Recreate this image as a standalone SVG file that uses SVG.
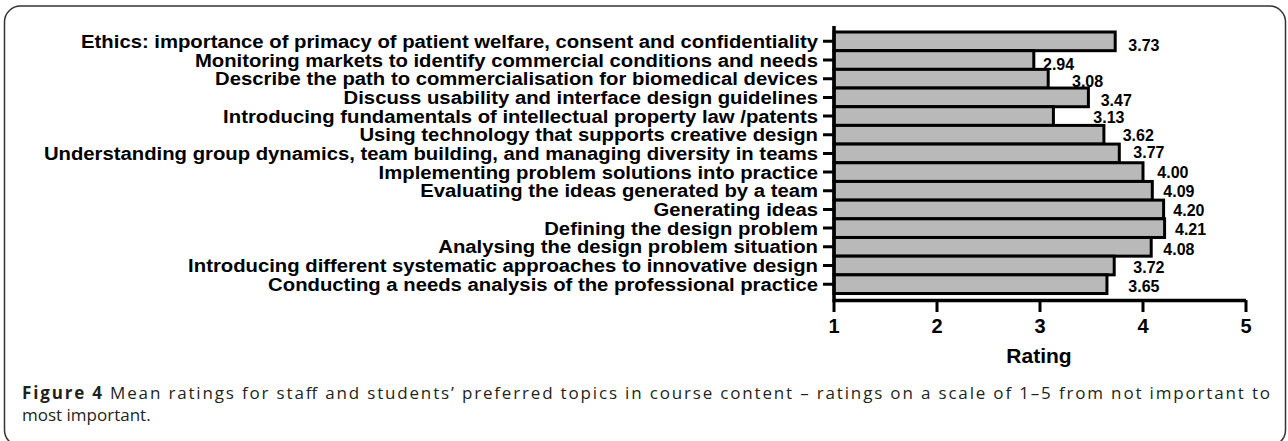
<svg xmlns="http://www.w3.org/2000/svg" width="1288" height="441" viewBox="0 0 1288 441">
<style>
.lbl{font-family:"Liberation Sans",Arial,sans-serif;font-weight:bold;font-size:18.7px;fill:#000;text-anchor:end}
.val{font-family:"Liberation Sans",Arial,sans-serif;font-weight:bold;font-size:16px;fill:#000}
.tick{font-family:"Liberation Sans",Arial,sans-serif;font-weight:bold;font-size:20px;fill:#000;text-anchor:middle}
.bar{fill:#b9b9b9;stroke:#000;stroke-width:3}
.ax{stroke:#000;stroke-width:3.5;fill:none}
.tk{stroke:#000;stroke-width:3;fill:none}
.cap{font-family:"Open Sans","Noto Sans",sans-serif;font-size:17px;fill:#231f20}
</style>
<rect x="4.5" y="6" width="1281" height="440" rx="16" ry="16" fill="#fff" stroke="#333" stroke-width="1.5"/>
<g id="bars">
<rect class="bar" x="834" y="32" width="281.2" height="18.68"/>
<rect class="bar" x="834" y="50.68" width="199.8" height="18.68"/>
<rect class="bar" x="834" y="69.36" width="214.2" height="18.68"/>
<rect class="bar" x="834" y="88.04" width="254.4" height="18.68"/>
<rect class="bar" x="834" y="106.72" width="219.4" height="18.68"/>
<rect class="bar" x="834" y="125.4" width="269.9" height="18.68"/>
<rect class="bar" x="834" y="144.08" width="285.3" height="18.68"/>
<rect class="bar" x="834" y="162.76" width="309" height="18.68"/>
<rect class="bar" x="834" y="181.44" width="318.3" height="18.68"/>
<rect class="bar" x="834" y="200.12" width="329.6" height="18.68"/>
<rect class="bar" x="834" y="218.8" width="330.6" height="18.68"/>
<rect class="bar" x="834" y="237.48" width="317.2" height="18.68"/>
<rect class="bar" x="834" y="256.16" width="280.2" height="18.68"/>
<rect class="bar" x="834" y="274.84" width="272.95" height="18.68"/>
</g>
<g id="axes">
<path class="ax" d="M834 26V302M832.3 300.5H1246"/>
<path class="tk" d="M823 41.3H834M823 60H834M823 78.7H834M823 97.4H834M823 116.1H834M823 134.7H834M823 153.4H834M823 172.1H834M823 190.8H834M823 209.4H834M823 228.1H834M823 246.8H834M823 265.5H834M823 284.2H834"/>
<path class="tk" d="M834 300V312M937 300V312M1040 300V312M1143 300V312M1246 300V312"/>
<text class="tick" x="834" y="333">1</text>
<text class="tick" x="937" y="333">2</text>
<text class="tick" x="1040" y="333">3</text>
<text class="tick" x="1143" y="333">4</text>
<text class="tick" x="1246" y="333">5</text>
<text class="tick" x="1039" y="363" style="font-size:21px">Rating</text>
</g>
<g id="labels" transform="matrix(1.085 0 0 1 -69.53 0)">
<text class="lbl" x="818" y="48">Ethics: importance of primacy of patient welfare, consent and confidentiality</text>
<text class="lbl" x="818" y="66.7">Monitoring markets to identify commercial conditions and needs</text>
<text class="lbl" x="818" y="85.4">Describe the path to commercialisation for biomedical devices</text>
<text class="lbl" x="818" y="104.1">Discuss usability and interface design guidelines</text>
<text class="lbl" x="818" y="122.8">Introducing fundamentals of intellectual property law /patents</text>
<text class="lbl" x="818" y="141.4">Using technology that supports creative design</text>
<text class="lbl" x="818" y="160.1">Understanding group dynamics, team building, and managing diversity in teams</text>
<text class="lbl" x="818" y="178.8">Implementing problem solutions into practice</text>
<text class="lbl" x="818" y="197.5">Evaluating the ideas generated by a team</text>
<text class="lbl" x="818" y="216.1">Generating ideas</text>
<text class="lbl" x="818" y="234.8">Defining the design problem</text>
<text class="lbl" x="818" y="253.5">Analysing the design problem situation</text>
<text class="lbl" x="818" y="272.2">Introducing different systematic approaches to innovative design</text>
<text class="lbl" x="818" y="290.9">Conducting a needs analysis of the professional practice</text>
</g>
<g id="values">
<text class="val" x="1128.3" y="50.7">3.73</text>
<text class="val" x="1043" y="70">2.94</text>
<text class="val" x="1072" y="86.7">3.08</text>
<text class="val" x="1100.7" y="106">3.47</text>
<text class="val" x="1093.3" y="122.7">3.13</text>
<text class="val" x="1122.7" y="140.7">3.62</text>
<text class="val" x="1133.3" y="158.3">3.77</text>
<text class="val" x="1157.3" y="178.3">4.00</text>
<text class="val" x="1163.3" y="196.7">4.09</text>
<text class="val" x="1173.3" y="216">4.20</text>
<text class="val" x="1175" y="235">4.21</text>
<text class="val" x="1163.3" y="255">4.08</text>
<text class="val" x="1133.3" y="273.3">3.72</text>
<text class="val" x="1128.3" y="291.7">3.65</text>
</g>
<g id="caption">
<text class="cap" x="22" y="399" textLength="1248" lengthAdjust="spacing"><tspan font-weight="bold">Figure 4</tspan> Mean ratings for staff and students’ preferred topics in course content – ratings on a scale of 1–5 from not important to</text>
<text class="cap" x="22" y="420.5">most important.</text>
</g>
</svg>
